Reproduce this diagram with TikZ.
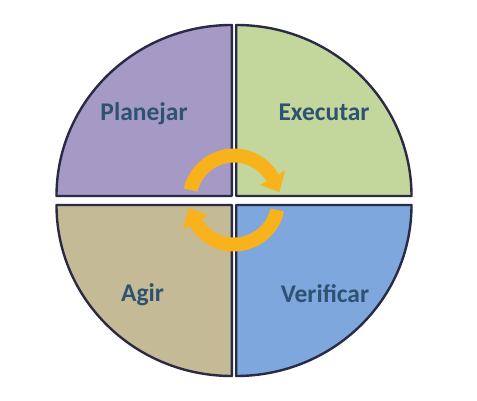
\documentclass[tikz,border=0pt]{standalone}
\usepackage{fontspec}
\setmainfont{Carlito}
\definecolor{qpurple}{HTML}{A59AC6}
\definecolor{qgreen}{HTML}{C3D69B}
\definecolor{qtan}{HTML}{C4BA96}
\definecolor{qblue}{HTML}{7EA7DD}
\definecolor{qline}{HTML}{2A2A46}
\definecolor{qtext}{HTML}{2E5272}
\definecolor{qorange}{HTML}{F7B21C}
\begin{document}
\begin{tikzpicture}[x=1pt,y=1pt,
  quad/.style={draw=qline,line width=2.4pt,line join=round},
  label/.style={text=qtext,font=\bfseries\fontsize{25.5}{30}\selectfont,anchor=base,inner sep=0pt},
  ring/.style={fill=qorange}]
\fill[white] (0,0) rectangle (477,401);
\useasboundingbox (0,0) rectangle (477,401);
% quadrants
\begin{scope}[shift={(234,200.5)}]
  \filldraw[quad,fill=qpurple] (-2.2,4.5) -- (-2.2,175.5) arc[start angle=90,end angle=180,x radius=175.3,y radius=171] -- cycle;
  \filldraw[quad,fill=qgreen] (2.2,4.5) -- (2.2,175.5) arc[start angle=90,end angle=0,x radius=175.3,y radius=171] -- cycle;
  \filldraw[quad,fill=qtan] (-2.2,-4.5) -- (-2.2,-175.5) arc[start angle=-90,end angle=-180,x radius=175.3,y radius=171] -- cycle;
  \filldraw[quad,fill=qblue] (2.2,-4.5) -- (2.2,-175.5) arc[start angle=-90,end angle=0,x radius=175.3,y radius=171] -- cycle;
\end{scope}
% labels
\node[label] (plan) at (144,280) {Planejar};
\node[label] (exec) at (324,280) {Executar};
\node[label] (agir) at (142.5,99.5) {Agir};
\node[label] (veri) at (325,98.5) {Verificar};
% cycle arrows
\begin{scope}[shift={(234,201)}]
  \fill[ring] (167:51.5) arc[start angle=167,end angle=30,radius=51.5] -- (30:59) -- (10:46) -- (30:30) -- (30:37.5) arc[start angle=30,end angle=167,radius=37.5] -- cycle;
  \fill[ring] (-13:51.5) arc[start angle=-13,end angle=-150,radius=51.5] -- (-150:59) -- (-170:46) -- (-150:30) -- (-150:37.5) arc[start angle=-150,end angle=-13,radius=37.5] -- cycle;
\end{scope}
\end{tikzpicture}
\end{document}
